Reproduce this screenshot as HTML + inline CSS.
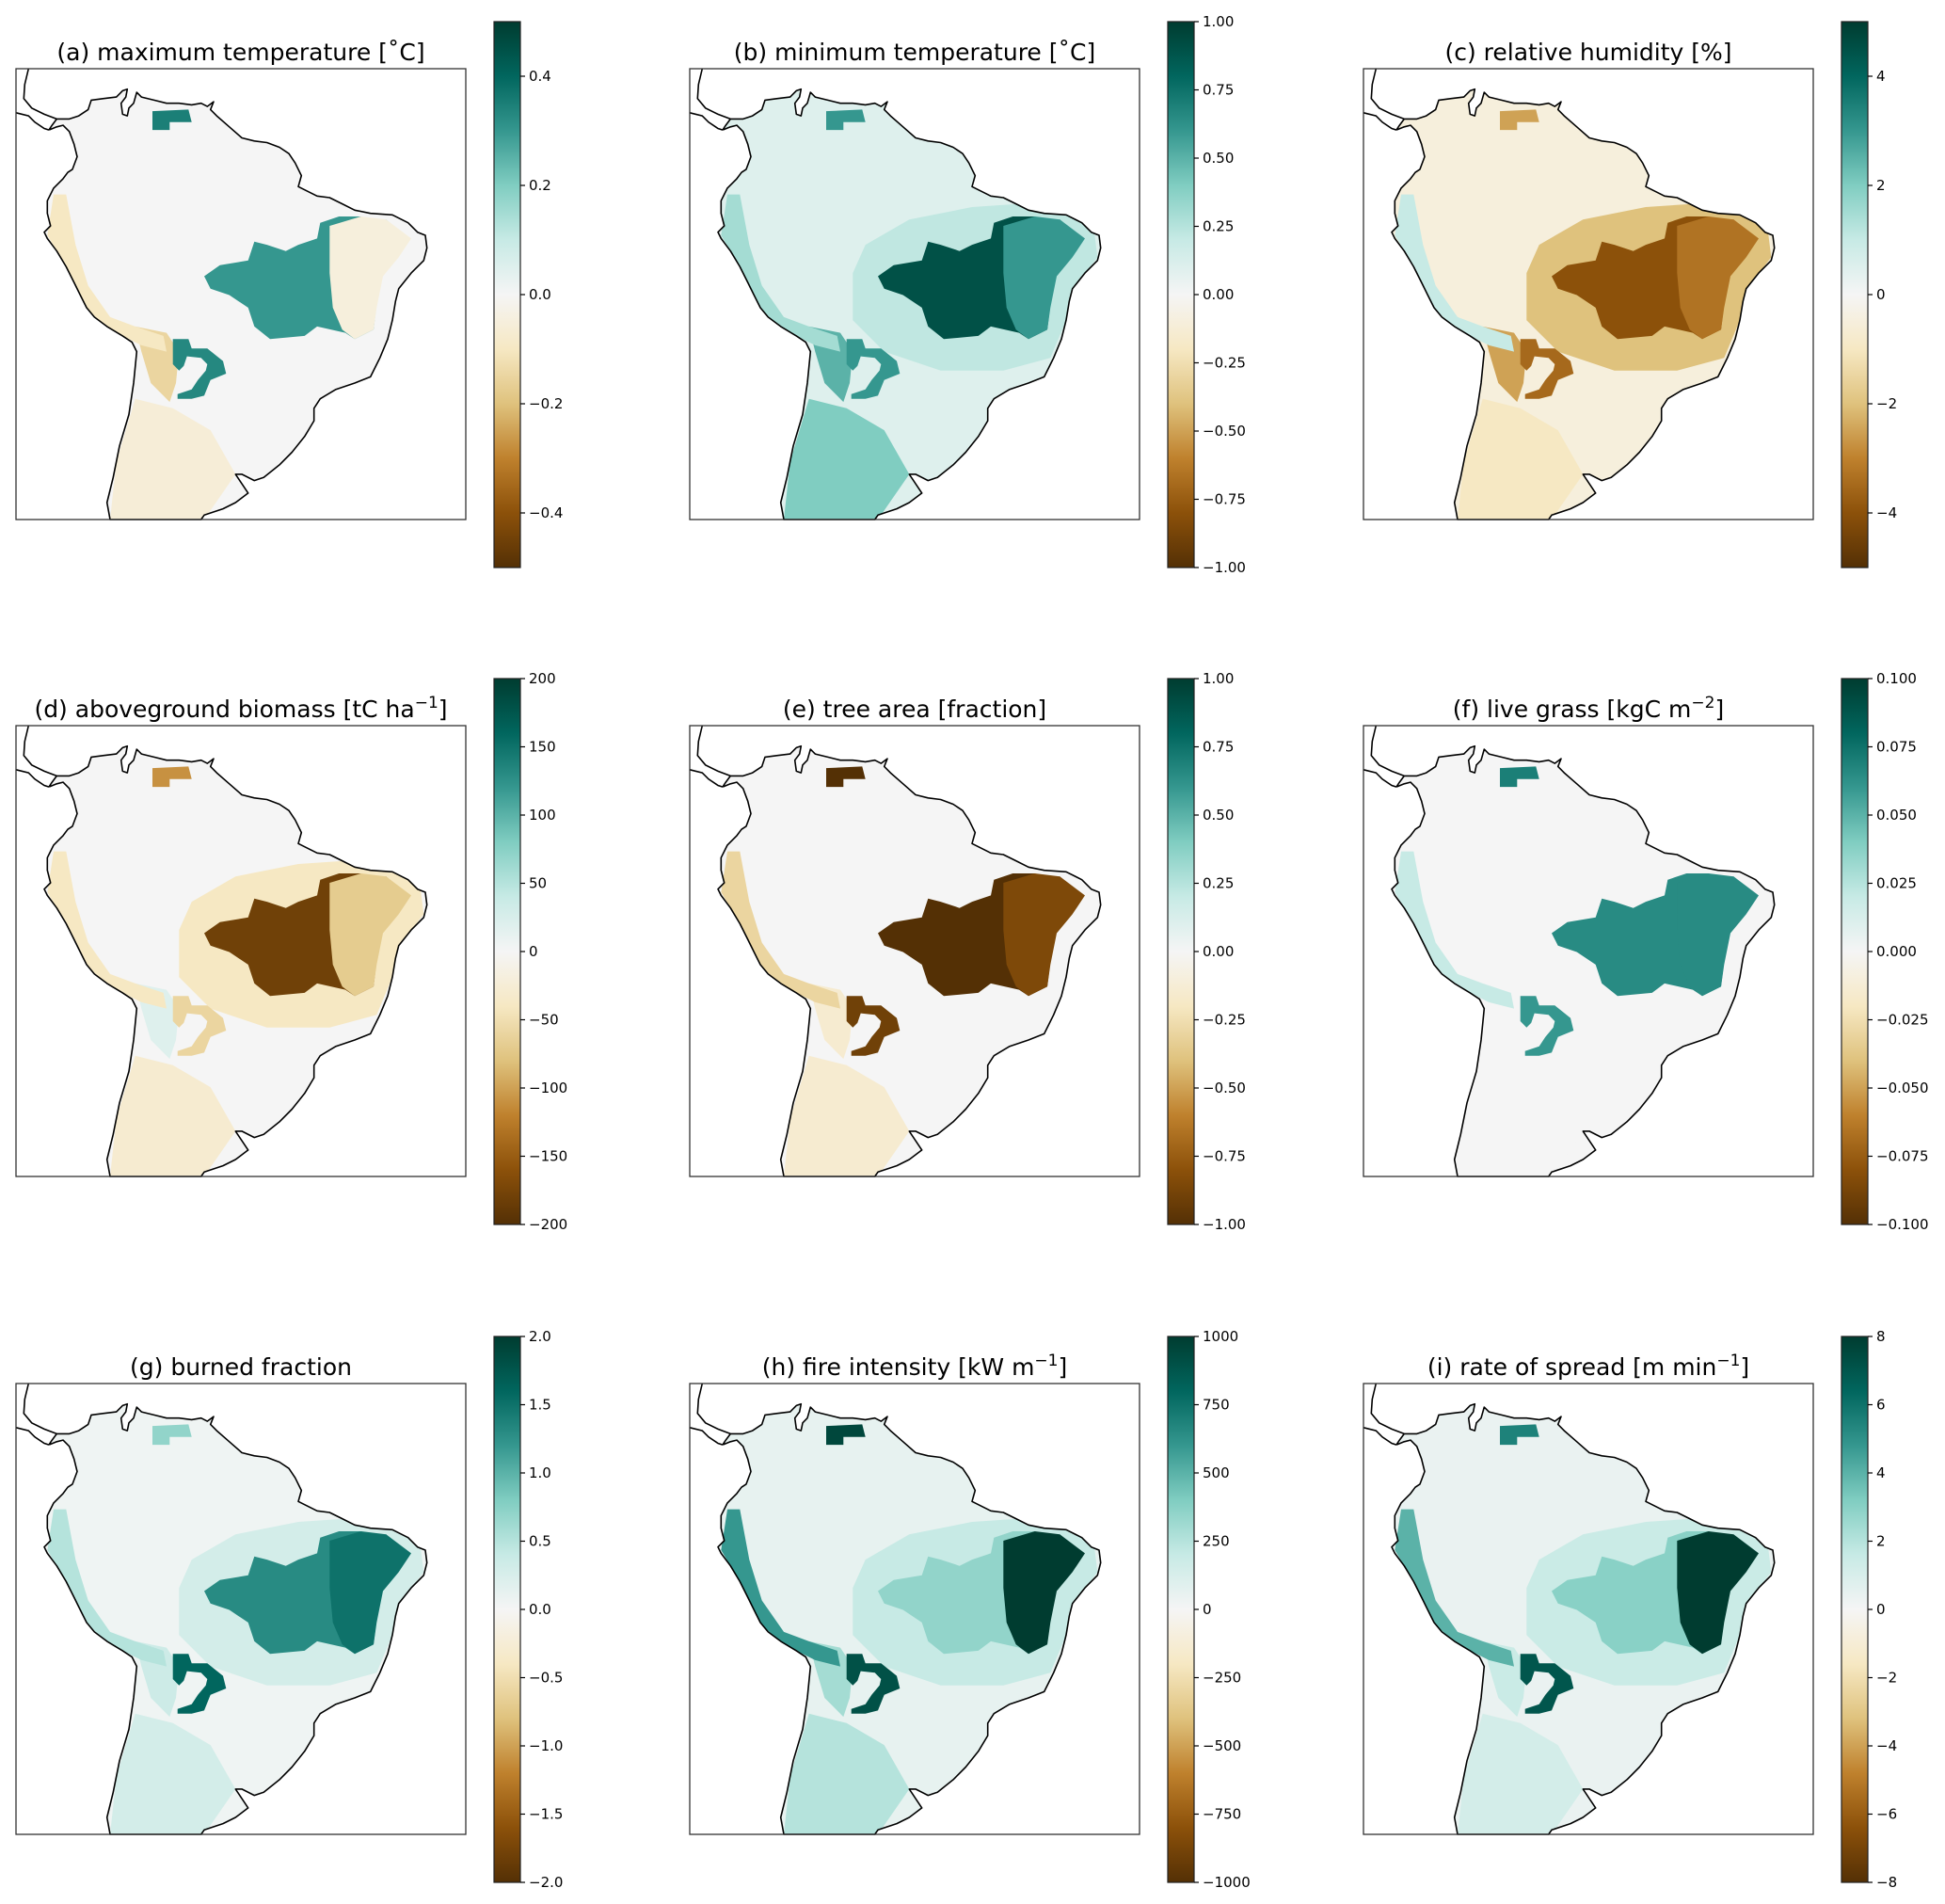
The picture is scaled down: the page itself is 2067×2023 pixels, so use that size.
<!DOCTYPE html>
<html><head><meta charset="utf-8">
<style>
body{margin:0;background:#fff;}
svg{display:block;font-family:"DejaVu Sans","Liberation Sans",sans-serif;}
</style></head>
<body>
<svg id="fig" width="2067" height="2023" viewBox="0 0 2067 2023" xmlns="http://www.w3.org/2000/svg"></svg>
<script>
// ---- data ----
const titleMain = ["(a) maximum temperature [˚C]","(b) minimum temperature [˚C]","(c) relative humidity [%]",
 "(d) aboveground biomass [tC ha","(e) tree area [fraction]","(f) live grass [kgC m",
 "(g) burned fraction","(h) fire intensity [kW m","(i) rate of spread [m min"];
const titleSup = ["","","","−1","","−2","","−1","−1"];
const vmax = [0.5,1,5,200,1,0.1,2,1000,8];
const tickValues = [
 [0.4,0.2,0,-0.2,-0.4],
 [1,0.75,0.5,0.25,0,-0.25,-0.5,-0.75,-1],
 [4,2,0,-2,-4],
 [200,150,100,50,0,-50,-100,-150,-200],
 [1,0.75,0.5,0.25,0,-0.25,-0.5,-0.75,-1],
 [0.1,0.075,0.05,0.025,0,-0.025,-0.05,-0.075,-0.1],
 [2,1.5,1,0.5,0,-0.5,-1,-1.5,-2],
 [1000,750,500,250,0,-250,-500,-750,-1000],
 [8,6,4,2,0,-2,-4,-6,-8]];
const tickLabels = [
 ["0.4","0.2","0.0","−0.2","−0.4"],
 ["1.00","0.75","0.50","0.25","0.00","−0.25","−0.50","−0.75","−1.00"],
 ["4","2","0","−2","−4"],
 ["200","150","100","50","0","−50","−100","−150","−200"],
 ["1.00","0.75","0.50","0.25","0.00","−0.25","−0.50","−0.75","−1.00"],
 ["0.100","0.075","0.050","0.025","0.000","−0.025","−0.050","−0.075","−0.100"],
 ["2.0","1.5","1.0","0.5","0.0","−0.5","−1.0","−1.5","−2.0"],
 ["1000","750","500","250","0","−250","−500","−750","−1000"],
 ["8","6","4","2","0","−2","−4","−6","−8"]];
// region values per panel: bg, broad, south, andes, west, core, east, ring, ven
const regionNames = ["bg","broad","south","andes","west","core","east","ring","ven"];
const valuesA = [0.0,0.0,-0.06,-0.15,-0.1,0.3,-0.05,0.33,0.35];
const valuesB = [0.1,0.22,0.4,0.5,0.3,0.9,0.6,0.6,0.6];
const valuesC = [-0.5,-2,-1,-2.5,1,-4,-3.3,-3.5,-2.5];
const valuesD = [0,-40,-30,20,-40,-180,-70,-60,-110];
const valuesE = [0,0,-0.15,-0.15,-0.3,-1,-0.85,-0.9,-1];
const valuesF = [0,0,0,0,0.02,0.065,0.065,0.06,0.07];
const valuesG = [0.05,0.3,0.3,0.35,0.5,1.3,1.5,1.6,0.7];
const valuesH = [60,200,250,300,600,350,1000,900,950];
const valuesI = [0.4,1.5,1.2,1.5,4,3,8,7,5.5];
const panelValues = [valuesA,valuesB,valuesC,valuesD,valuesE,valuesF,valuesG,valuesH,valuesI];

// ---- geometry (map-local units 0..1434) ----
const coast = [[105,195],[115,180],[130,160],[170,160],[200,150],[230,130],[240,100],[280,95],[320,90],[340,70],[355,65],[350,90],[335,110],[340,145],[355,150],[360,125],[375,110],[385,75],[400,90],[440,100],[480,110],[520,110],[560,115],[590,110],[610,120],[630,105],[620,130],[640,150],[680,185],[720,220],[760,230],[800,235],[840,250],[870,270],[890,300],[910,340],[900,375],[930,390],[960,405],[1000,410],[1040,430],[1080,450],[1130,460],[1200,465],[1250,490],[1280,520],[1305,530],[1310,570],[1300,610],[1260,650],[1220,700],[1210,740],[1200,800],[1185,860],[1160,920],[1130,980],[1080,1000],[1020,1020],[970,1050],[950,1080],[950,1120],[920,1170],[880,1220],[840,1260],[790,1300],[760,1310],[720,1290],[700,1290],[720,1320],[740,1350],[700,1380],[660,1400],[600,1420],[590,1434],[300,1434],[290,1380],[310,1300],[330,1200],[360,1100],[375,1000],[385,900],[370,870],[340,850],[290,820],[250,790],[225,760],[205,720],[185,680],[160,630],[130,580],[100,540],[90,520],[110,500],[100,460],[100,420],[120,380],[150,350],[165,330],[180,320],[195,280],[185,240],[170,200],[150,180],[130,185]];
const isthmusA = [[40,0],[28,50],[25,95],[50,125],[90,145],[130,160]];
const isthmusB = [[0,140],[40,150],[60,170],[90,190],[105,195]];
const regions = {
 broad:[[560,560],[700,480],[900,440],[1050,430],[1200,450],[1290,520],[1300,600],[1230,690],[1200,800],[1150,920],[1000,960],[800,960],[620,900],[520,800],[520,650]],
 south:[[380,1050],[500,1080],[620,1150],[700,1290],[600,1434],[300,1434],[320,1250],[350,1150]],
 andes:[[380,820],[480,840],[520,900],[510,1000],[490,1060],[430,1000],[400,900]],
 west:[[120,400],[160,400],[190,560],[230,690],[300,790],[380,820],[470,850],[480,900],[400,880],[300,830],[220,760],[180,680],[130,580],[100,530]],
 core:[[600,660],[650,625],[740,610],[760,550],[800,560],[860,580],[900,560],[960,540],[970,490],[1030,470],[1100,470],[1140,490],[1180,480],[1250,540],[1230,560],[1200,620],[1160,660],[1150,750],[1140,830],[1080,860],[1050,840],[960,820],[920,850],[810,860],[760,820],[740,760],[680,720],[620,700]],
 east:[[1000,500],[1100,470],[1180,480],[1260,540],[1220,600],[1170,660],[1150,760],[1140,830],[1080,860],[1040,830],[1010,760],[1000,650]],
 ring:[[500,860],[550,860],[560,890],[610,890],[660,930],[670,970],[620,990],[600,1040],[560,1050],[515,1050],[515,1035],[560,1020],[580,990],[605,960],[610,940],[590,920],[545,915],[535,945],[520,960],[500,940]],
 ven:[[435,135],[550,130],[560,170],[490,170],[490,195],[435,195]]
};
const stops = ["#543005","#8c510a","#bf812d","#dfc27d","#f6e8c3","#f5f5f5","#c7eae5","#80cdc1","#35978f","#01665e","#003c30"];

function hex(c){return [parseInt(c.slice(1,3),16),parseInt(c.slice(3,5),16),parseInt(c.slice(5,7),16)];}
function cmap(t){
 t=Math.max(0,Math.min(1,t)); const p=t*10, i=Math.min(9,Math.floor(p)), f=p-i;
 const a=hex(stops[i]), b=hex(stops[i+1]);
 return "rgb("+a.map((v,k)=>Math.round(v+(b[k]-v)*f)).join(",")+")";
}
const NS="http://www.w3.org/2000/svg";
const fig=document.getElementById('fig');
function el(tag,attrs,parent){const e=document.createElementNS(NS,tag);for(const k in attrs)e.setAttribute(k,attrs[k]);(parent||fig).appendChild(e);return e;}

const MW=478, MH=479;
const colX=[17,733,1449], rowY=[73,771,1470];
const defs=el('defs',{});
for(let p=0;p<9;p++){
 const ox=colX[p%3], oy=rowY[Math.floor(p/3)];
 const sx=x=>ox+x/1434*MW, sy=y=>oy+y/1434*MH;
 const pts=arr=>arr.map(q=>sx(q[0]).toFixed(1)+","+sy(q[1]).toFixed(1)).join(" ");
 const g=el('g',{});
 
 
 const t=el('text',{x:ox+MW/2,y:oy-9,'text-anchor':'middle','font-size':'25'},g);
 
 
 t.appendChild(document.createTextNode(titleMain[p]));
 if(titleSup[p]){
  const ts=el('tspan',{dy:'-10','font-size':'17'},t); ts.textContent=titleSup[p];
  const tc=el('tspan',{dy:'10'},t); tc.textContent="]";
 }
 const cp=el('clipPath',{id:'clip'+p},defs);
 el('polygon',{points:pts(coast)},cp);
 const v=panelValues[p], vm=vmax[p];
 const field=el('g',{'clip-path':'url(#clip'+p+')'},g);
 
 
 regionNames.forEach((rn,i)=>{
  const col=cmap((v[i]/vm+1)/2);
  let r;
  if(rn==='bg') r=el('rect',{x:ox,y:oy,width:MW,height:MH,fill:col},field);
  else r=el('polygon',{points:pts(regions[rn]),fill:col},field);
  
  
 });
 const cl=el('polyline',{points:pts(coast.concat([coast[0]])),fill:'none',stroke:'#000','stroke-width':'1.6','stroke-linejoin':'round'},g);
 
 
 el('polyline',{points:pts(isthmusA),fill:'none',stroke:'#000','stroke-width':'1.6'},g);
 el('polyline',{points:pts(isthmusB),fill:'none',stroke:'#000','stroke-width':'1.6'},g);
 const fr=el('rect',{x:ox,y:oy,width:MW,height:MH,fill:'none',stroke:'#333','stroke-width':'1.3'},g);
 
 
 const cx=ox+508, cy=oy-50, CW=28, CH=580;
 const gid='grad'+p;
 const lg=el('linearGradient',{id:gid,x1:0,y1:1,x2:0,y2:0},defs);
 stops.forEach((s,i)=>el('stop',{offset:(i/10),'stop-color':s},lg));
 const cb=el('rect',{x:cx,y:cy,width:CW,height:CH,fill:'url(#'+gid+')',stroke:'#222','stroke-width':'1.2'},g);
 
 
 const ycb=val=>cy+CH*(1-(val/vm+1)/2);
 tickValues[p].forEach((tv,i)=>{
  const yy=ycb(tv);
  el('line',{x1:cx+CW,x2:cx+CW+5,y1:yy,y2:yy,stroke:'#000','stroke-width':'1.2'},g);
  const tl=el('text',{x:cx+CW+9,y:yy+5,'font-size':'15'},g);
  tl.textContent=tickLabels[p][i];
  
  
 });
}
</script>
</body></html>
